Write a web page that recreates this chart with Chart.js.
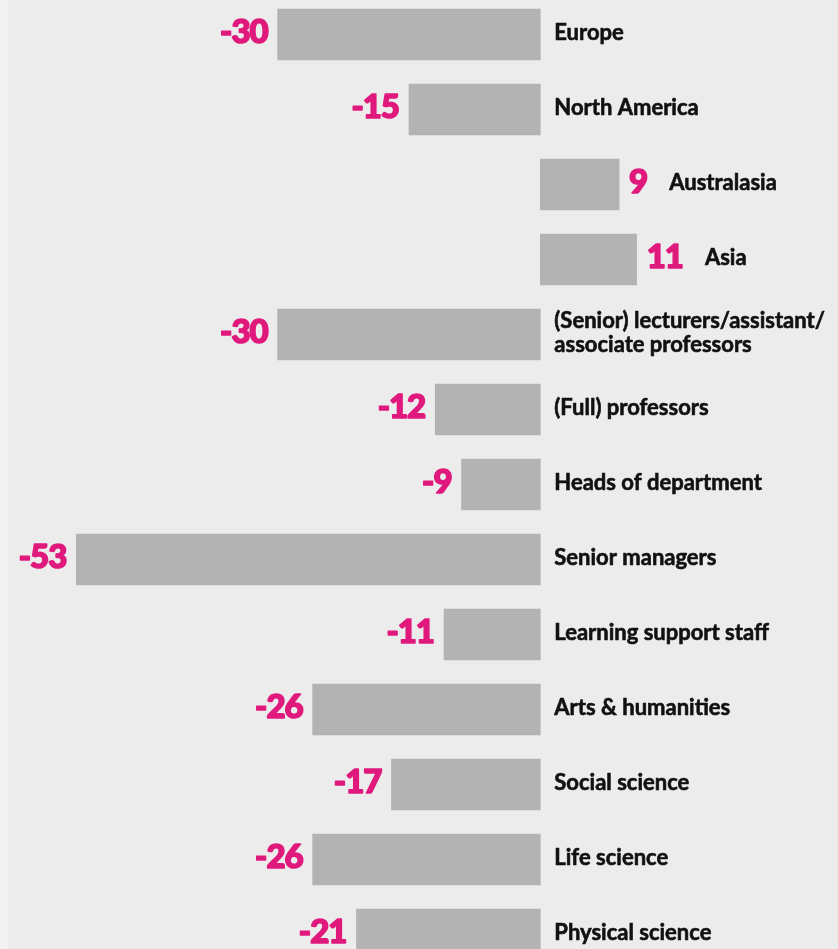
<!DOCTYPE html>
<html>
<head>
<meta charset="utf-8">
<script src="https://cdn.jsdelivr.net/npm/chart.js@4"></script>
<style>
	html, body {
		margin: 0;
		padding: 0;
		width: 838px;
		height: 949px;
		overflow: hidden;
		background: #f3f3f3;
	}
	#box {
		position: absolute;
		left: 8px;
		top: -3px;
		width: 830px;
		height: 975px;
		background: #ececec;
	}
</style>
</head>
<body>
<div id="box"><canvas id="chart"></canvas></div>
<script>
const categories = [
	"Europe",
	"North America",
	"Australasia",
	"Asia",
	["(Senior) lecturers/assistant/", "associate professors"],
	"(Full) professors",
	"Heads of department",
	"Senior managers",
	"Learning support staff",
	"Arts & humanities",
	"Social science",
	"Life science",
	"Physical science"
];
const values = [-30, -15, 9, 11, -30, -12, -9, -53, -11, -26, -17, -26, -21];

const xMin = -60;
const xMax = 34;

const labelPlugin = {
	id: "labels",
	afterDatasetsDraw(chart) {
		const ctx = chart.ctx;
		const meta = chart.getDatasetMeta(0);
		const zero = chart.scales.x.getPixelForValue(0);
		ctx.save();
		ctx.lineJoin = "round";
		ctx.textBaseline = "middle";
		meta.data.forEach(function (bar, i) {
			const v = values[i];
			const y = bar.y;
			// value, drawn heavy
			ctx.font = "900 33px Lato";
			ctx.letterSpacing = "-1px";
			ctx.fillStyle = "#e0197d";
			ctx.strokeStyle = "#e0197d";
			ctx.lineWidth = 1.6;
			const txt = String(v);
			const w = ctx.measureText(txt).width;
			let labelX = zero + 14;
			let tx;
			if (v < 0) {
				ctx.textAlign = "right";
				tx = bar.x - 10;
			} else {
				ctx.textAlign = "left";
				tx = bar.x + 10;
				labelX = bar.x + 10 + w + 22;
			}
			ctx.fillText(txt, tx, y - 2);
			ctx.strokeText(txt, tx, y - 2);
			// category
			ctx.letterSpacing = "0px";
			ctx.font = "700 22px Lato";
			ctx.fillStyle = "#111111";
			ctx.strokeStyle = "#111111";
			ctx.lineWidth = 0.6;
			ctx.textAlign = "left";
			const lines = Array.isArray(categories[i]) ? categories[i] : [categories[i]];
			const lh = 24;
			const y0 = y - 2 - (lines.length - 1) * lh / 2;
			lines.forEach(function (line, j) {
				ctx.fillText(line, labelX, y0 + j * lh);
				ctx.strokeText(line, labelX, y0 + j * lh);
			});
		});
		ctx.restore();
	}
};

function draw() {
	const chart = document.getElementById("chart").getContext("2d");
	new Chart(chart, {
		type: "bar",
		data: {
			labels: categories,
			datasets: [{
				data: values,
				backgroundColor: "#b3b3b3",
				barThickness: 51
			}]
		},
		options: {
			indexAxis: "y",
			responsive: true,
			maintainAspectRatio: false,
			animation: false,
			layout: { padding: { left: 7, right: 0, top: 0, bottom: 0 } },
			scales: {
				x: { display: false, min: xMin, max: xMax },
				y: { display: false }
			},
			plugins: {
				legend: { display: false },
				tooltip: { enabled: false }
			}
		},
		plugins: [labelPlugin]
	});
}

Promise.all([
	document.fonts.load("900 33px Lato"),
	document.fonts.load("700 22px Lato")
]).then(draw, draw);
</script>
</body>
</html>
